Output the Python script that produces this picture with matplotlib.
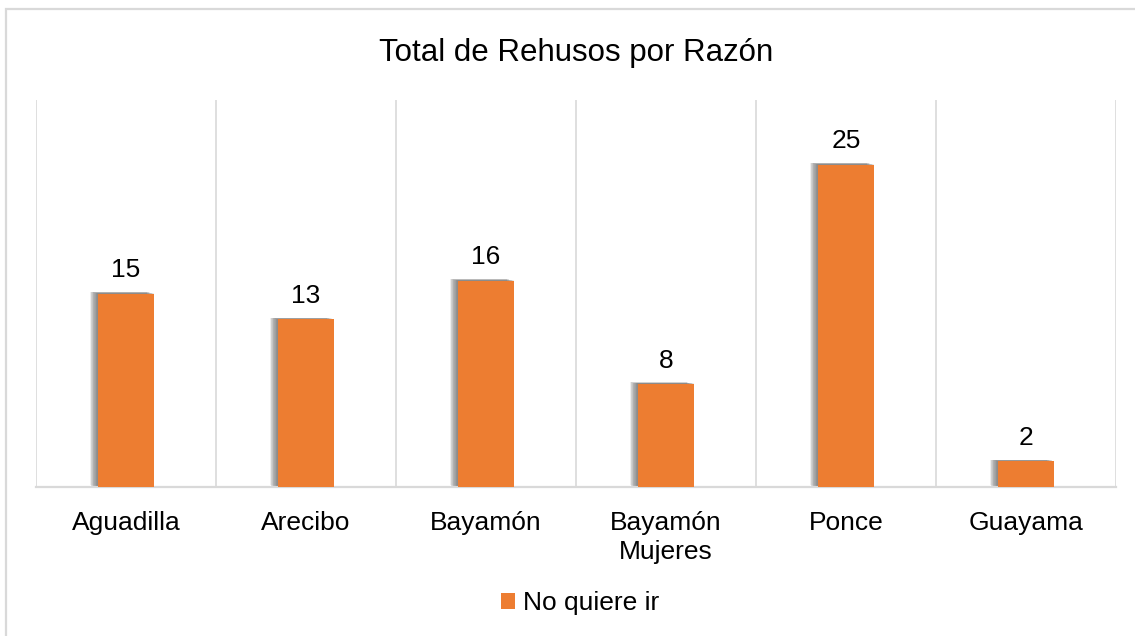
import matplotlib
matplotlib.use("Agg")
import numpy as np
import matplotlib.pyplot as plt
import matplotlib.patheffects as pe
from matplotlib.patches import Rectangle

# Data
categories = ['Aguadilla', 'Arecibo', 'Bayamón', 'Bayamón\nMujeres', 'Ponce', 'Guayama']
values = [15, 13, 16, 8, 25, 2]
series_name = 'No quiere ir'

plt.rcParams['font.family'] = ['Liberation Sans', 'DejaVu Sans']

W, H = 1135, 636
fig = plt.figure(figsize=(W / 100, H / 100), dpi=100)
fig.patch.set_facecolor('white')

# outer chart border (only top and left edges are inside the picture)
fig.patches.append(Rectangle((6 / W, -0.5), 2, 1.5 - 9 / H, transform=fig.transFigure,
                             fill=False, edgecolor='#D9D9D9', linewidth=1.6))

ax = fig.add_axes([36 / W, 1 - 487 / H, 1080 / W, 387 / H])
x = np.arange(len(categories))

# soft blurred-looking shadow to the left of every bar
shadow = [pe.SimplePatchShadow(offset=(-d, 0.15 * d + 0.3), shadow_rgbFace='#5f5f5f', alpha=0.1)
          for d in np.arange(5.5, 0.4, -0.5)]
bars = ax.bar(x, values, width=0.315, color='#ED7D31', zorder=3,
              path_effects=shadow + [pe.Normal()])

for xi, v in zip(x, values):
    ax.annotate(str(v), (xi, v), xytext=(0, 8), textcoords='offset points',
                ha='center', va='bottom', fontsize=19, color='black')

ax.set_xlim(-0.5, len(categories) - 0.5)
ax.set_ylim(0, 30)
ax.set_yticks([])
ax.set_xticks(x)
ax.set_xticklabels(categories, fontsize=19, color='black', linespacing=1.3)
ax.tick_params(axis='x', length=0, pad=17)

for b in np.arange(-0.5, len(categories), 1.0):
    ax.axvline(b, color='#D9D9D9', linewidth=1.2, zorder=1)
for s in ['top', 'left', 'right']:
    ax.spines[s].set_visible(False)
ax.spines['bottom'].set_color('#D9D9D9')
ax.spines['bottom'].set_linewidth(1.6)

fig.text(576 / W, 1 - 53 / H, 'Total de Rehusos por Razón', ha='center', va='center',
         fontsize=22.5, color='black')

handle = Rectangle((0, 0), 1, 1, facecolor='#ED7D31', edgecolor='none')
fig.legend(handles=[handle], labels=[series_name], loc='center',
           bbox_to_anchor=(580 / W, 1 - 603 / H), frameon=False, fontsize=19,
           handlelength=0.55, handleheight=0.55, handletextpad=0.3)

fig.savefig('out.png', dpi=100)
